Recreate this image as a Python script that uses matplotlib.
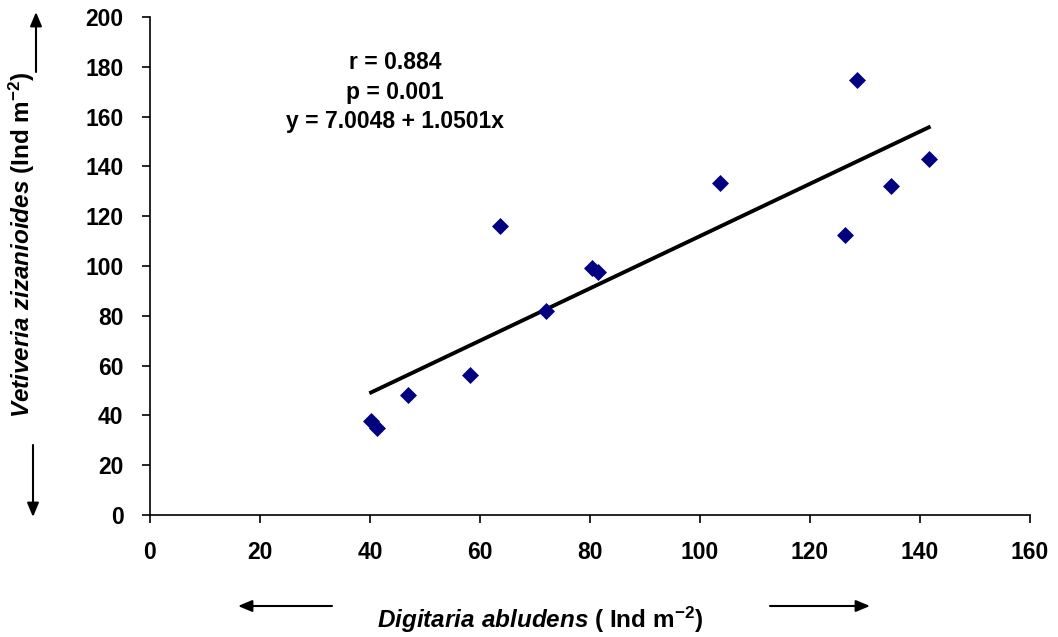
import matplotlib
matplotlib.use("Agg")
import matplotlib.pyplot as plt
from matplotlib.patches import FancyArrowPatch
import numpy as np

plt.rcParams["font.family"] = ["Liberation Sans", "DejaVu Sans"]
plt.rcParams["font.weight"] = "bold"
plt.rcParams["mathtext.fontset"] = "custom"
plt.rcParams["mathtext.rm"] = "Liberation Sans:bold"
plt.rcParams["mathtext.it"] = "Liberation Sans:italic:bold"
plt.rcParams["mathtext.bf"] = "Liberation Sans:bold"

# Density of each species per quadrat
digitaria = [40.2, 41.3, 46.9, 58.2, 63.6, 72.0, 80.4, 81.5, 103.6, 126.4, 128.5, 134.7, 141.6]
vetiveria = [37.8, 35.0, 48.2, 56.2, 116.0, 82.0, 99.2, 97.6, 133.3, 112.4, 174.7, 132.0, 143.0]

# Regression results
intercept = 7.0048
slope = 1.0501
r_value = 0.884
p_value = 0.001

x_ticks = [0, 20, 40, 60, 80, 100, 120, 140, 160]
y_ticks = [0, 20, 40, 60, 80, 100, 120, 140, 160, 180, 200]

fig = plt.figure(figsize=(10.58, 6.37), dpi=100)
ax = fig.add_axes([150 / 1058, 1 - 515 / 637, 880 / 1058, 498 / 637])

ax.scatter(digitaria, vetiveria, marker="D", s=75, color="#000080", zorder=3, linewidths=0)

xs = np.array([min(digitaria), max(digitaria)])
ax.plot(xs, intercept + slope * xs, color="black", lw=2.8, zorder=2)

ax.set_xlim(0, 160)
ax.set_ylim(0, 200)
ax.set_xticks(x_ticks)
ax.set_yticks(y_ticks)
ax.tick_params(axis="both", direction="out", length=6, width=1.2, labelsize=16.5)
ax.tick_params(axis="x", pad=13)
ax.tick_params(axis="y", pad=13)
for lab in ax.get_xticklabels() + ax.get_yticklabels():
    lab.set_fontweight("bold")
for side in ("top", "right"):
    ax.spines[side].set_visible(False)
for side in ("left", "bottom"):
    ax.spines[side].set_linewidth(1.2)

fig.text(395 / 1058, 1 - 92 / 637,
         f"r = {r_value:.3f}\np = {p_value:.3f}\ny = {intercept:.4f} + {slope:.4f}x",
         ha="center", va="center", fontsize=16.5, fontweight="bold", linespacing=1.36)

fig.text(540 / 1058, 1 - 620 / 637,
         r"$\mathit{Digitaria\ abludens}$ ( Ind m$^{-2}$)",
         ha="center", va="center", fontsize=17.5)
fig.text(22 / 1058, 1 - 245 / 637,
         r"$\mathit{Vetiveria\ zizanioides}$ (Ind m$^{-2}$)",
         ha="center", va="center", rotation=90, fontsize=17.5)

arrow_kw = dict(arrowstyle="-|>,head_length=0.6,head_width=0.25", color="black",
                lw=1.5, mutation_scale=14, shrinkA=0, shrinkB=0,
                transform=fig.transFigure)
arrows = [((36, 72), (36, 12)), ((33, 445), (33, 517)),
          ((332, 606), (238, 606)), ((770, 606), (870, 606))]
for (x0, y0), (x1, y1) in arrows:
    fig.add_artist(FancyArrowPatch((x0 / 1058, 1 - y0 / 637), (x1 / 1058, 1 - y1 / 637), **arrow_kw))

fig.savefig("out.png", dpi=100)
